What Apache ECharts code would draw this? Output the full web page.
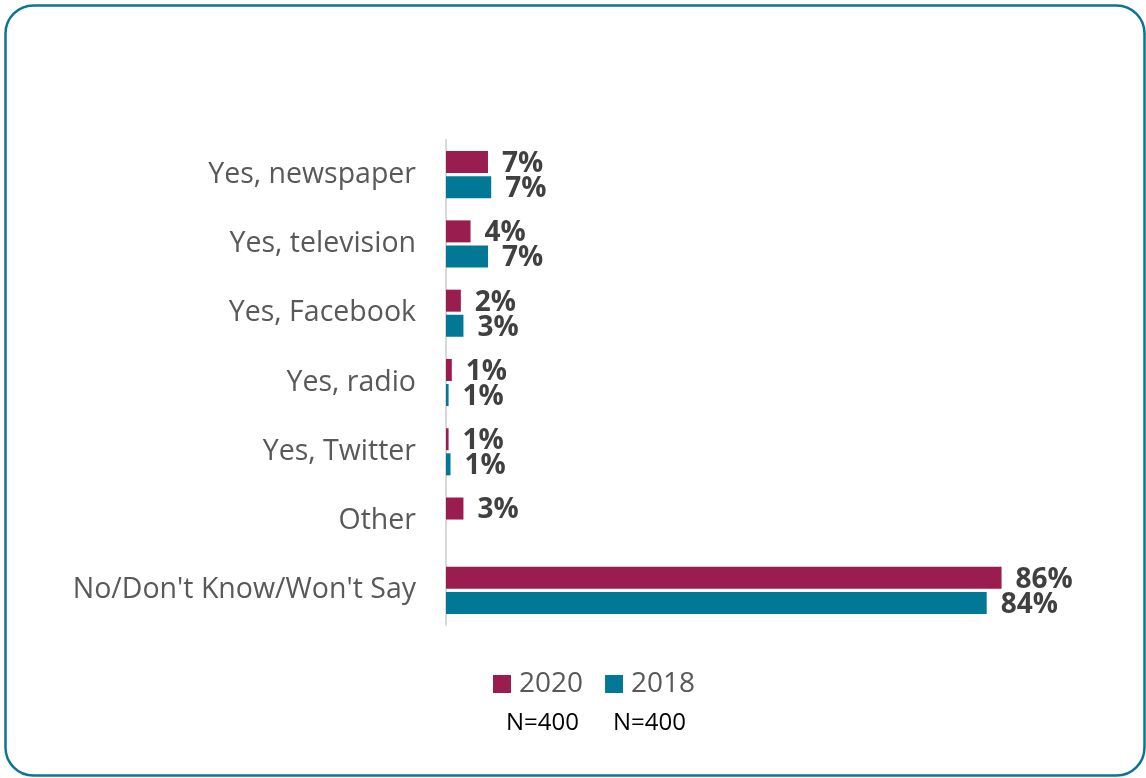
<!DOCTYPE html>
<html>
<head>
<meta charset="utf-8">
<script src="https://cdn.jsdelivr.net/npm/echarts@6/dist/echarts.min.js"></script>
<style>
html,body{margin:0;padding:0;background:#fff;}
#chart{width:1146px;height:778px;}
</style>
</head>
<body>
<div id="chart"></div>
<script>
const categories = ['Yes, newspaper','Yes, television','Yes, Facebook','Yes, radio','Yes, Twitter','Other',"No/Don't Know/Won't Say"];
const seriesNames = ['2020','2018'];
const values2020 = [6.5, 3.8, 2.3, 0.9, 0.4, 2.7, 86];
const values2018 = [7.0, 6.5, 2.7, 0.4, 0.7, null, 83.7];
const labels2020 = ['7%','4%','2%','1%','1%','3%','86%'];
const labels2018 = ['7%','7%','3%','1%','1%','','84%'];
const sampleNotes = ['N=400','N=400'];

const colors = ['#9A1D4F','#007896'];
const chart = echarts.init(document.getElementById('chart'));
const labelStyle = (arr) => ({
  show: true, position: 'right', distance: 14, offset: [0, 2],
  fontFamily: 'Open Sans', fontWeight: 'bold', fontSize: 28, color: '#404040',
  formatter: p => arr[p.dataIndex]
});
chart.setOption({
  animation: false,
  backgroundColor: '#fff',
  color: colors,
  grid: {left: 446, right: 54, top: 140, bottom: 153, containLabel: false},
  xAxis: {type: 'value', min: 0, max: 100, show: false},
  yAxis: {
    type: 'category', data: categories, inverse: true,
    axisLine: {show: true, lineStyle: {color: '#D9D9D9', width: 2}},
    axisTick: {show: false},
    axisLabel: {fontFamily: 'Open Sans', fontSize: 28.5, color: '#595959', margin: 30}
  },
  legend: {
    data: seriesNames, left: 488, top: 665, itemWidth: 18, itemHeight: 18, itemGap: 22,
    icon: 'rect',
    textStyle: {fontFamily: 'Open Sans', fontSize: 28, color: '#595959', padding: [0,0,0,3]}
  },
  series: [
    {name: seriesNames[0], type: 'bar', data: values2020, barGap: '14%', barCategoryGap: '32%',
     itemStyle: {color: colors[0]}, label: labelStyle(labels2020)},
    {name: seriesNames[1], type: 'bar', data: values2018,
     itemStyle: {color: colors[1]}, label: labelStyle(labels2018)}
  ],
  graphic: [
    {type: 'rect', shape: {x: 5.5, y: 5.5, width: 1139, height: 770, r: 28},
     style: {fill: 'none', stroke: '#0B7594', lineWidth: 2.5}, silent: true, z: -1},
    {type: 'text', left: 506, top: 711, style: {text: sampleNotes[0], font: '24px "Open Sans"', fill: '#000'}},
    {type: 'text', left: 613, top: 711, style: {text: sampleNotes[1], font: '24px "Open Sans"', fill: '#000'}}
  ]
});
</script>
</body>
</html>
